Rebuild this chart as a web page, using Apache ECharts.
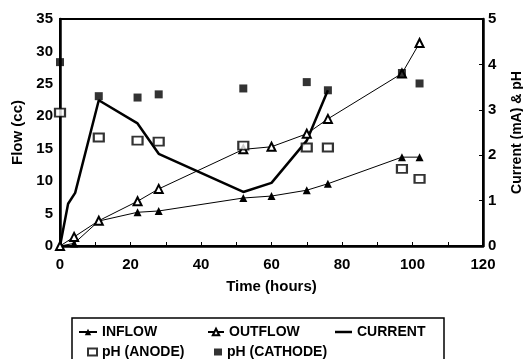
<!DOCTYPE html>
<html>
<head>
<meta charset="utf-8">
<script src="https://cdn.jsdelivr.net/npm/echarts@6/dist/echarts.min.js"></script>
<style>
  html, body { margin: 0; padding: 0; background: #fff; }
  #chart { width: 523px; height: 359px; }
</style>
</head>
<body>
<div id="chart"></div>
<script>
// time points (hours)
const hours = [0, 4, 11, 22, 28, 52, 60, 70, 76, 97, 102];
const inflow = [0, 0.4, 3.85, 5.2, 5.4, 7.4, 7.7, 8.6, 9.6, 13.7, 13.7];
const outflow = [0, 1.4, 3.9, 6.9, 8.8, 14.9, 15.3, 17.3, 19.6, 26.6, 31.3];

const currentHours = [0, 2.3, 4.3, 11, 22, 28, 52, 60, 70, 76];
const current = [0, 0.93, 1.17, 3.21, 2.7, 2.03, 1.19, 1.39, 2.32, 3.43];

const phHours = [0, 11, 22, 28, 52, 70, 76, 97, 102];
const phAnode = [2.94, 2.39, 2.32, 2.3, 2.21, 2.17, 2.17, 1.7, 1.48];
const phCathode = [4.05, 3.3, 3.27, 3.34, 3.47, 3.61, 3.43, 3.81, 3.58];

const pairs = (xs, ys) => xs.map((x, i) => [x, ys[i]]);

const font = '"Liberation Sans", Arial, sans-serif';
const txt = { color: '#000', fontFamily: font, fontWeight: 'bold', fontSize: 14 };

const chart = echarts.init(document.getElementById('chart'));

// one legend per entry so the columns line up like the original
const legendItem = (name, left, top, w, h, extra) => Object.assign({
    data: [name],
    left: left,
    top: top,
    padding: 0,
    itemWidth: w,
    itemHeight: h,
    selectedMode: false,
    textStyle: txt
}, extra || {});

const option = {
    animation: false,
    backgroundColor: '#fff',
    grid: {
        left: 60, right: 40, top: 19, bottom: 113,
        containLabel: false,
        outerBoundsMode: 'none',
        show: true, borderColor: '#000', borderWidth: 2
    },
    legend: [
        legendItem('INFLOW', 78, 325, 18, 8),
        legendItem('OUTFLOW', 207, 325, 16, 8),
        // plain line for the current, no marker
        legendItem({ name: 'CURRENT', icon: 'rect' }, 335, 325, 17, 2.5),
        legendItem('pH (ANODE)', 87, 345, 9, 7),
        legendItem('pH (CATHODE)', 214, 345, 8, 7)
    ],
    graphic: [{
        type: 'rect',
        shape: { x: 72, y: 318, width: 372, height: 50 },
        style: { fill: 'none', stroke: '#000', lineWidth: 1.5 }
    }],
    xAxis: {
        type: 'value',
        min: 0, max: 120, interval: 20,
        name: 'Time (hours)',
        nameLocation: 'middle',
        nameGap: 33,
        nameTextStyle: Object.assign({}, txt, { fontSize: 15 }),
        axisLine: { lineStyle: { color: '#000', width: 2.5 } },
        axisTick: { inside: true, length: 4, lineStyle: { color: '#000', width: 1 } },
        minorTick: { show: true, splitNumber: 2, length: 4, lineStyle: { color: '#000', width: 1 } },
        axisLabel: Object.assign({}, txt, { fontSize: 15, margin: 11 }),
        splitLine: { show: false }
    },
    yAxis: [{
        type: 'value',
        min: 0, max: 35, interval: 5,
        name: 'Flow (cc)',
        nameLocation: 'middle',
        nameGap: 35,
        nameTextStyle: Object.assign({}, txt, { fontSize: 15 }),
        axisLine: { show: true, lineStyle: { color: '#000', width: 2.5 } },
        axisTick: { show: false },
        axisLabel: Object.assign({}, txt, { fontSize: 15, margin: 7 }),
        splitLine: { show: false }
    }, {
        type: 'value',
        position: 'right',
        min: 0, max: 5, interval: 1,
        name: 'Current (mA) & pH',
        nameLocation: 'middle',
        nameGap: 27,
        nameRotate: 90,
        nameTextStyle: Object.assign({}, txt, { fontSize: 14 }),
        axisLine: { show: true, lineStyle: { color: '#000', width: 2.5 } },
        axisTick: { inside: true, length: 4, lineStyle: { color: '#000', width: 1 } },
        axisLabel: Object.assign({}, txt, { fontSize: 15, margin: 5 }),
        splitLine: { show: false }
    }],
    series: [
        {
            name: 'INFLOW',
            type: 'line',
            data: pairs(hours, inflow),
            symbol: 'triangle',
            symbolSize: 8,
            clip: false,
            itemStyle: { color: '#000' },
            lineStyle: { color: '#000', width: 1 },
            z: 3
        },
        {
            name: 'OUTFLOW',
            type: 'line',
            data: pairs(hours, outflow),
            symbol: 'emptyTriangle',
            symbolSize: 8,
            clip: false,
            itemStyle: { color: '#000', borderWidth: 1 },
            lineStyle: { color: '#000', width: 1 },
            z: 3
        },
        {
            name: 'CURRENT',
            type: 'line',
            yAxisIndex: 1,
            data: pairs(currentHours, current),
            symbol: 'none',
            clip: false,
            itemStyle: { color: '#000' },
            lineStyle: { color: '#000', width: 2.5 },
            z: 2
        },
        {
            name: 'pH (ANODE)',
            type: 'scatter',
            yAxisIndex: 1,
            data: pairs(phHours, phAnode),
            symbol: 'emptyRect',
            symbolSize: [10, 8],
            clip: false,
            itemStyle: { color: '#000', borderWidth: 1 },
            z: 4
        },
        {
            name: 'pH (CATHODE)',
            type: 'scatter',
            yAxisIndex: 1,
            data: pairs(phHours, phCathode),
            symbol: 'rect',
            symbolSize: 8,
            clip: false,
            itemStyle: { color: '#000' },
            z: 5
        }
    ]
};

chart.setOption(option);
</script>
</body>
</html>
